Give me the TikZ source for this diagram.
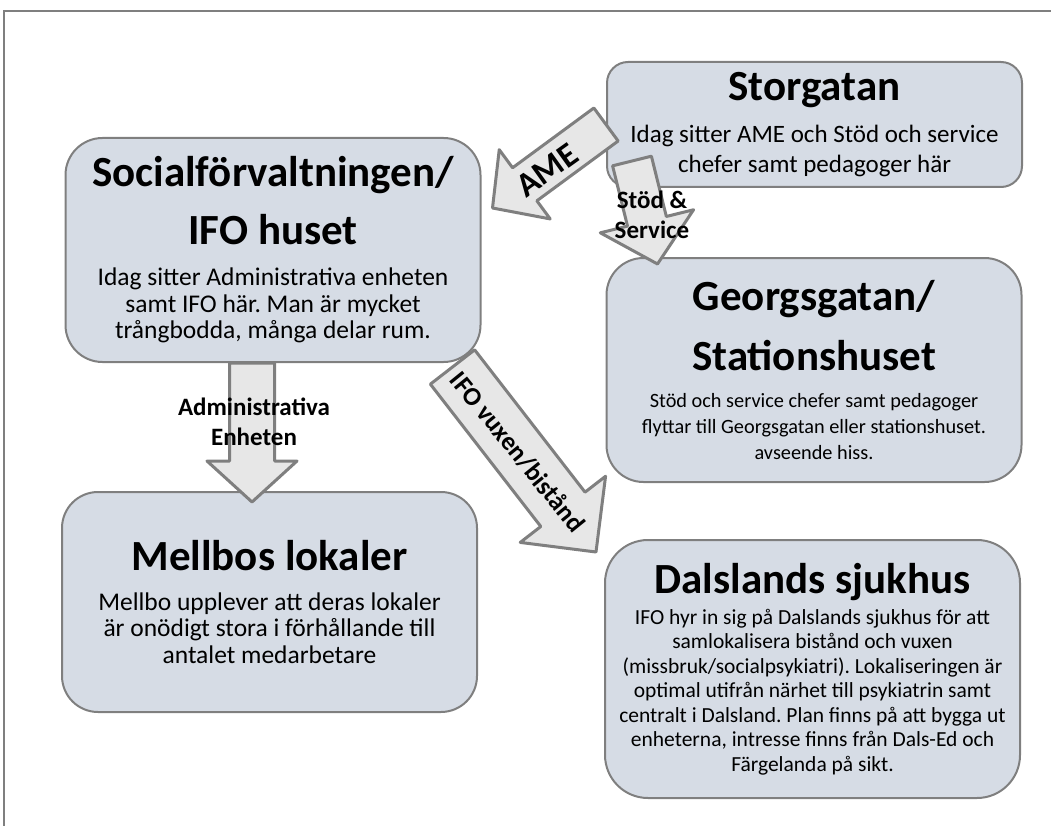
\documentclass[tikz,border=0pt]{standalone}
\usepackage{fontspec}
\setmainfont{Carlito}
\usepackage{xcolor}
\usetikzlibrary{calc}
\setlength{\parindent}{0pt}
\frenchspacing

\definecolor{placefill}{HTML}{D6DCE5}
\definecolor{placeline}{HTML}{7F7F7F}
\definecolor{movefill}{HTML}{E7E7E7}

\newcommand{\wordgap}{\spaceskip=0pt\xspaceskip=0pt}
\newcommand{\titlesize}{\fontsize{43}{47}\selectfont\bfseries\wordgap\centering}
\newcommand{\textsize}[2]{\fontsize{#1}{#2}\selectfont\wordgap\centering}
\newcommand{\movearrow}[5]{%
  \coordinate (#1 base) at ($(#2)!#5pt!(#1)$);
  \draw [move] ($(#1)!#3pt!90:(#2)$) -- ($(#1 base)!#3pt!90:(#2)$)
    -- ($(#1 base)!#4pt!90:(#2)$) -- (#2) -- ($(#1 base)!#4pt!-90:(#2)$)
    -- ($(#1 base)!#3pt!-90:(#2)$) -- ($(#1)!#3pt!-90:(#2)$) -- cycle;}

\tikzset{
  place/.style={draw=placeline, line width=2pt, fill=placefill, inner sep=0pt,
    align=center, text width=405pt, minimum width=415pt},
  move/.style={draw=placeline, line width=3pt, fill=movefill, line join=round},
  movetext/.style={font=\fontsize{25}{30}\selectfont\bfseries\wordgap,
    align=center, inner sep=0pt},
}

\begin{document}
\begin{tikzpicture}[x=1pt, y=-1pt]
    \useasboundingbox (0, 0) rectangle (1051, 826);
    \draw [placeline, line width=1.5pt] (4, 826) -- (4, 11) -- (1051, 11);

    \path (814.5, 124.5) node [place, minimum height=125pt, rounded corners=21pt] (stor)
	{\vspace*{6pt}{\titlesize Storgatan\par}\vspace{6pt}
	{\textsize{25}{30}Idag sitter AME och Stöd och service\par
	chefer samt pedagoger här\par}};
    \path (273, 250) node [place, minimum height=224pt, rounded corners=37pt] (soc)
	{\vspace*{8pt}{\titlesize Socialförvaltningen/\par\vspace{3pt}IFO huset\par}\vspace{14.5pt}
	{\textsize{25.5}{26.5}Idag sitter Administrativa enheten\par
	samt IFO här. Man är mycket\par trångbodda, många delar rum.\par}};
    \path (814, 370) node [place, minimum height=224pt, rounded corners=37pt] (georg)
	{{\titlesize Georgsgatan/\par\vspace{13pt}Stationshuset\par}\vspace{11pt}
	{\textsize{20.3}{26}Stöd och service chefer samt pedagoger\par
	flyttar till Georgsgatan eller stationshuset.\par avseende hiss.\par}};
    \path (269.5, 602) node [place, minimum height=220pt, rounded corners=36pt] (mell)
	{{\titlesize Mellbos lokaler\par}\vspace{13.5pt}
	{\textsize{25.5}{26.5}Mellbo upplever att deras lokaler\par
	är onödigt stora i förhållande till\par antalet medarbetare\par}};
    \path (812.5, 669) node [place, minimum height=258pt, rounded corners=43pt] (dals)
	{{\titlesize Dalslands sjukhus\par}\vspace{6.5pt}
	{\textsize{21.5}{24.5}IFO hyr in sig på Dalslands sjukhus för att\par
	samlokalisera bistånd och vuxen\par
	(missbruk/socialpsykiatri). Lokaliseringen är\par
	optimal utifrån närhet till psykiatrin samt\par
	centralt i Dalsland. Plan finns på att bygga ut\par
	enheterna, intresse finns från Dals-Ed och\par
	Färgelanda på sikt.\par}};

    \coordinate (ame0) at (stor.west);
    \coordinate (ame1) at ([xshift=11pt, yshift=42pt]soc.east);
    \movearrow{ame0}{ame1}{20.5}{43}{40}
    \coordinate (stod0) at ([xshift=26pt, yshift=27pt]stor.south west);
    \coordinate (stod1) at ([xshift=52pt, yshift=-7pt]georg.north west);
    \movearrow{stod0}{stod1}{20}{48}{44}
    \coordinate (adm0) at ([xshift=-21pt]soc.south);
    \coordinate (adm1) at ([xshift=-17.5pt, yshift=-11pt]mell.north);
    \movearrow{adm0}{adm1}{22.5}{45}{41}
    \coordinate (ifo0) at ([xshift=-29pt, yshift=-4pt]soc.south east);
    \coordinate (ifo1) at ([xshift=-8pt, yshift=-13pt]dals.north west);
    \movearrow{ifo0}{ifo1}{28}{54}{54}

    \path (547, 170) node [movetext, font=\fontsize{34}{40}\selectfont\bfseries,
	rotate=35.6] (amel) {AME};
    \path (652, 215) node [movetext] (stodl) {Stöd \&\\Service};
    \path (254, 422) node [movetext] (adml) {Administrativa\\Enheten};
    \path (518, 452) node [movetext, font=\fontsize{26}{30}\selectfont\bfseries\wordgap,
	rotate=-51] (ifol) {IFO vuxen/bistånd};
\end{tikzpicture}
\end{document}
